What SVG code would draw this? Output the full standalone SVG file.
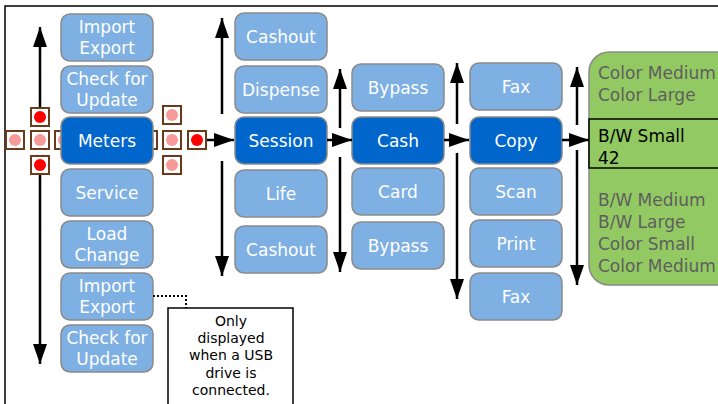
<svg xmlns="http://www.w3.org/2000/svg" width="718" height="404" viewBox="0 0 718 404">
<style>
.lb{fill:#7eb0e4;stroke:#8a8a8a;stroke-width:1.5}
.db{fill:#0066cc;stroke:#8a8a8a;stroke-width:1.5}
.t{font-family:"DejaVu Sans",sans-serif;font-size:17px;fill:#fff;text-anchor:middle}
.g{font-family:"DejaVu Sans",sans-serif;font-size:17px;fill:#5e5e5e}
.k{font-family:"DejaVu Sans",sans-serif;font-size:17px;fill:#000}
.c{font-family:"DejaVu Sans",sans-serif;font-size:14px;fill:#000;text-anchor:middle}
.sq{fill:#fff;stroke:#6b3a1a;stroke-width:2}
.pk{fill:#f79a9a}
.rd{fill:#f00}
.ar{stroke:#000;stroke-width:2.5;fill:none;marker-end:url(#ah)}
</style>
<defs>
<marker id="ah" markerUnits="userSpaceOnUse" markerWidth="20" markerHeight="14" refX="20" refY="7" orient="auto">
<path d="M0,0 L20,7 L0,14 z" fill="#000"/>
</marker>
</defs>
<rect width="718" height="404" fill="#fff"/>
<path d="M5,404 V6 H718" fill="none" stroke="#000" stroke-width="1.5"/>

<g id="dots">
<rect class="sq" x="31" y="108" width="18" height="18"/><circle class="rd" cx="40" cy="117" r="6"/>
<rect class="sq" x="6" y="131" width="18" height="18"/><circle class="pk" cx="15" cy="140" r="6"/>
<rect class="sq" x="31" y="131" width="18" height="18"/><circle class="pk" cx="40" cy="140" r="6"/>
<rect class="sq" x="55" y="131" width="18" height="18"/><circle class="pk" cx="64" cy="140" r="6"/>
<rect class="sq" x="31" y="156" width="18" height="18"/><circle class="rd" cx="40" cy="165" r="6"/>
<rect class="sq" x="139" y="131" width="18" height="18"/><circle class="pk" cx="148" cy="140" r="6"/>
<rect class="sq" x="163" y="106" width="18" height="18"/><circle class="pk" cx="172" cy="115" r="6"/>
<rect class="sq" x="163" y="131" width="18" height="18"/><circle class="pk" cx="172" cy="140" r="6"/>
<rect class="sq" x="163" y="156" width="18" height="18"/><circle class="pk" cx="172" cy="165" r="6"/>
<rect class="sq" x="188" y="131" width="18" height="18"/><circle class="rd" cx="197" cy="140" r="6"/>
</g>

<g id="col1">
<g id="n-import1"><rect class="lb" x="61" y="14" width="92" height="47" rx="9"/><text class="t" x="107" y="33">Import</text><text class="t" x="107" y="54">Export</text></g>
<g id="n-check1"><rect class="lb" x="61" y="66" width="92" height="47" rx="9"/><text class="t" x="107" y="85">Check for</text><text class="t" x="107" y="106">Update</text></g>
<g id="n-meters"><rect class="db" x="61" y="117" width="92" height="47" rx="9"/><text class="t" x="107" y="147">Meters</text></g>
<g id="n-service"><rect class="lb" x="61" y="169" width="92" height="47" rx="9"/><text class="t" x="107" y="199">Service</text></g>
<g id="n-load"><rect class="lb" x="61" y="221" width="92" height="47" rx="9"/><text class="t" x="107" y="240">Load</text><text class="t" x="107" y="261">Change</text></g>
<g id="n-import2"><rect class="lb" x="61" y="273" width="92" height="47" rx="9"/><text class="t" x="107" y="292">Import</text><text class="t" x="107" y="313">Export</text></g>
<g id="n-check2"><rect class="lb" x="61" y="325" width="92" height="47" rx="9"/><text class="t" x="107" y="344">Check for</text><text class="t" x="107" y="365">Update</text></g>
</g>

<g id="col2">
<g id="n-cashout1"><rect class="lb" x="235" y="13" width="92" height="47" rx="9"/><text class="t" x="281" y="43">Cashout</text></g>
<g id="n-dispense"><rect class="lb" x="235" y="66" width="92" height="47" rx="9"/><text class="t" x="281" y="96">Dispense</text></g>
<g id="n-session"><rect class="db" x="235" y="117" width="92" height="47" rx="9"/><text class="t" x="281" y="147">Session</text></g>
<g id="n-life"><rect class="lb" x="235" y="170" width="92" height="47" rx="9"/><text class="t" x="281" y="200">Life</text></g>
<g id="n-cashout2"><rect class="lb" x="235" y="226" width="92" height="47" rx="9"/><text class="t" x="281" y="256">Cashout</text></g>
</g>

<g id="col3">
<g id="n-bypass1"><rect class="lb" x="352" y="64" width="92" height="47" rx="9"/><text class="t" x="398" y="94">Bypass</text></g>
<g id="n-cash"><rect class="db" x="352" y="117" width="92" height="47" rx="9"/><text class="t" x="398" y="147">Cash</text></g>
<g id="n-card"><rect class="lb" x="352" y="168" width="92" height="47" rx="9"/><text class="t" x="398" y="198">Card</text></g>
<g id="n-bypass2"><rect class="lb" x="352" y="222" width="92" height="47" rx="9"/><text class="t" x="398" y="252">Bypass</text></g>
</g>

<g id="col4">
<g id="n-fax1"><rect class="lb" x="470" y="63" width="92" height="47" rx="9"/><text class="t" x="516" y="93">Fax</text></g>
<g id="n-copy"><rect class="db" x="470" y="117" width="92" height="47" rx="9"/><text class="t" x="516" y="147">Copy</text></g>
<g id="n-scan"><rect class="lb" x="470" y="168" width="92" height="47" rx="9"/><text class="t" x="516" y="198">Scan</text></g>
<g id="n-print"><rect class="lb" x="470" y="220" width="92" height="47" rx="9"/><text class="t" x="516" y="250">Print</text></g>
<g id="n-fax2"><rect class="lb" x="470" y="273" width="92" height="47" rx="9"/><text class="t" x="516" y="303">Fax</text></g>
</g>

<g id="n-sizes">
<rect x="589" y="52" width="160" height="233" rx="20" fill="#92c962" stroke="#8a8a8a" stroke-width="1.5"/>
<text class="g" x="598" y="79">Color Medium</text>
<text class="g" x="598" y="101">Color Large</text>
<rect x="589" y="119" width="140" height="49" fill="#92c962" stroke="#000" stroke-width="1.5"/>
<text class="k" x="598" y="142">B/W Small</text>
<text class="k" x="598" y="164">42</text>
<text class="g" x="598" y="206">B/W Medium</text>
<text class="g" x="598" y="228">B/W Large</text>
<text class="g" x="598" y="250">Color Small</text>
<text class="g" x="598" y="272">Color Medium</text>
</g>

<g id="n-note">
<rect x="168" y="308" width="125" height="110" fill="#fff" stroke="#000" stroke-width="1.5"/>
<text class="c" x="231" y="326">Only</text>
<text class="c" x="231" y="343">displayed</text>
<text class="c" x="231" y="360">when a USB</text>
<text class="c" x="231" y="378">drive is</text>
<text class="c" x="231" y="395">connected.</text>
</g>

<g id="connectors">
<line class="ar" x1="40" y1="107" x2="40" y2="27"/>
<line class="ar" x1="40" y1="175" x2="40" y2="364"/>
<line class="ar" x1="207" y1="140" x2="234" y2="140"/>
<line class="ar" x1="222" y1="114" x2="222" y2="18"/>
<line class="ar" x1="222" y1="161" x2="222" y2="276"/>
<line class="ar" x1="327" y1="140" x2="352" y2="140"/>
<line class="ar" x1="340" y1="128" x2="340" y2="69"/>
<line class="ar" x1="340" y1="157" x2="340" y2="272"/>
<line class="ar" x1="444" y1="140" x2="469" y2="140"/>
<line class="ar" x1="457" y1="124" x2="457" y2="63"/>
<line class="ar" x1="457" y1="153" x2="457" y2="299"/>
<line class="ar" x1="562" y1="140" x2="589" y2="140"/>
<line class="ar" x1="577" y1="125" x2="577" y2="67"/>
<line class="ar" x1="577" y1="150" x2="577" y2="285"/>
<path d="M153,296 H186 V308" fill="none" stroke="#000" stroke-width="2" stroke-dasharray="2,2"/>
</g>
</svg>
